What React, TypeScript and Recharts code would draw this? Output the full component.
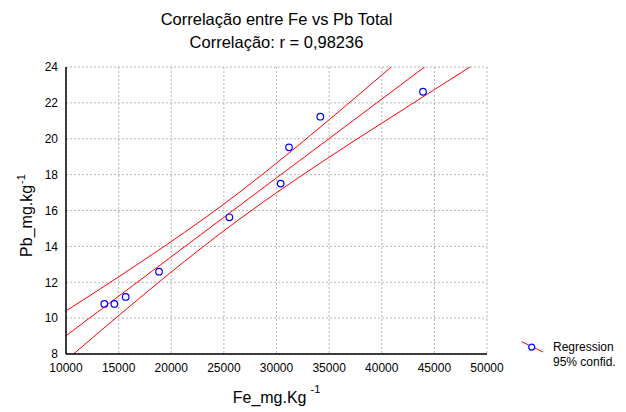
import React from 'react';
import { ComposedChart, Line, Scatter, XAxis, YAxis, CartesianGrid, Legend } from 'recharts';

// Observed samples
const feValues = [13640, 14590, 15670, 18840, 25520, 30400, 31190, 34160, 43920];
const pbValues = [10.79, 10.79, 11.18, 12.59, 15.62, 17.5, 19.52, 21.23, 22.62];

// Regression line and 95% confidence band
const bandFe = [10000, 15000, 20000, 25000, 30000, 35000, 40000, 45000, 50000];
const fitPb = [9.02, 11.22, 13.42, 15.62, 17.82, 20.01, 22.21, 24.41, 26.61];
const upperPb = [10.4, 12.3, 14.27, 16.36, 18.64, 21.06, 23.55, 26.07, 28.62];
const lowerPb = [7.64, 10.14, 12.57, 14.87, 16.99, 18.97, 20.87, 22.74, 24.6];

// Axis ticks
const xTickLabels = [10000, 15000, 20000, 25000, 30000, 35000, 40000, 45000, 50000];
const yTickLabels = [8, 10, 12, 14, 16, 18, 20, 22, 24];
const xMinorTicks = Array.from({ length: 41 }, (_, i) => 10000 + i * 1000);
const yMinorTicks = Array.from({ length: 17 }, (_, i) => 8 + i);

const titleLines = ['Correlação entre Fe vs Pb Total', 'Correlação: r = 0,98236'];
const legendLabels = ['Regression', '95% confid.'];

const points = feValues.map((fe, i) => ({ fe, pb: pbValues[i] }));
const fitLine = bandFe.map((fe, i) => ({ fe, pb: fitPb[i] }));
const upperLine = bandFe.map((fe, i) => ({ fe, pb: upperPb[i] }));
const lowerLine = bandFe.map((fe, i) => ({ fe, pb: lowerPb[i] }));

const W = 626;
const H = 412;
const FONT = "'Liberation Sans', Arial, Helvetica, sans-serif";
const RED = '#ff0000';
const BLUE = '#0000ff';

const XTitle = (props: any) => {
  const { x, y, width } = props.viewBox;
  return (
    <text x={x + width / 2} y={y + 49} textAnchor="middle" fontFamily={FONT} fontSize={16} fill="#000">
      Fe_mg.Kg
      <tspan fontSize={11} dx={4} dy={-10}>-1</tspan>
    </text>
  );
};

const YTitle = (props: any) => {
  const { x, y, height } = props.viewBox;
  const cx = x + 32;
  const cy = y + height / 2 + 5;
  return (
    <text x={cx} y={cy} transform={`rotate(-90, ${cx}, ${cy})`} textAnchor="middle" fontFamily={FONT} fontSize={16} fill="#000">
      Pb_mg.kg
      <tspan fontSize={11} dx={1} dy={-7}>-1</tspan>
    </text>
  );
};

const Circle = (props: any) => {
  const { cx, cy } = props;
  return <circle cx={cx} cy={cy} r={3.3} fill="none" stroke={BLUE} strokeWidth={1.2} />;
};

const LegendContent = () => (
  <div style={{ display: 'flex', alignItems: 'flex-start', fontFamily: FONT, fontSize: 12, color: '#000' }}>
    <svg width={26} height={18}>
      <line x1={1.7} y1={3.7} x2={23} y2={14} stroke={RED} strokeWidth={1} />
      <circle cx={11.7} cy={9.1} r={3} fill="#fff" stroke={BLUE} strokeWidth={1.2} />
    </svg>
    <div style={{ marginLeft: 7, marginTop: 2, lineHeight: '14.5px', whiteSpace: 'nowrap' }}>
      <div>{legendLabels[0]}</div>
      <div>{legendLabels[1]}</div>
    </div>
  </div>
);

export default function App() {
  return (
    <div style={{ position: 'absolute', left: 0, top: 0, width: W, height: H, background: '#fff' }}>
      <div style={{ position: 'absolute', left: 66, width: 421, top: 8, textAlign: 'center', fontFamily: FONT, fontSize: 16.5, lineHeight: '23px', color: '#000' }}>
        <div>{titleLines[0]}</div>
        <div>{titleLines[1]}</div>
      </div>
      <ComposedChart width={W} height={H} margin={{ top: 67, right: 139, bottom: 0, left: 0 }}>
        <CartesianGrid xAxisId="main" yAxisId="main" stroke="#b4b4b4" strokeDasharray="2 2" />
        <XAxis
          xAxisId="main"
          dataKey="fe"
          type="number"
          domain={[10000, 50000]}
          ticks={xTickLabels}
          allowDataOverflow
          height={58}
          tickSize={0}
          tickMargin={9}
          tickLine={false}
          axisLine={{ stroke: '#000', strokeWidth: 1.5 }}
          tick={{ fontSize: 12, fill: '#000', fontFamily: FONT }}
          label={{ content: XTitle }}
        />
        <XAxis
          xAxisId="minorBottom"
          dataKey="fe"
          type="number"
          orientation="bottom"
          mirror
          domain={[10000, 50000]}
          ticks={xMinorTicks}
          allowDataOverflow
          height={0}
          tickSize={3}
          tick={false}
          axisLine={false}
          tickLine={{ stroke: '#000' }}
        />
        <XAxis
          xAxisId="minorTop"
          dataKey="fe"
          type="number"
          orientation="top"
          mirror
          domain={[10000, 50000]}
          ticks={xMinorTicks}
          allowDataOverflow
          height={0}
          tickSize={3}
          tick={false}
          axisLine={{ stroke: '#000', strokeWidth: 1.5 }}
          tickLine={{ stroke: '#000' }}
        />
        <YAxis
          yAxisId="main"
          dataKey="pb"
          type="number"
          domain={[8, 24]}
          ticks={yTickLabels}
          allowDataOverflow
          width={66}
          tickSize={0}
          tickMargin={8}
          tickLine={false}
          axisLine={{ stroke: '#000', strokeWidth: 1.5 }}
          tick={{ fontSize: 12, fill: '#000', fontFamily: FONT }}
          label={{ content: YTitle }}
        />
        <YAxis
          yAxisId="minorLeft"
          dataKey="pb"
          type="number"
          orientation="left"
          mirror
          domain={[8, 24]}
          ticks={yMinorTicks}
          allowDataOverflow
          width={0}
          tickSize={3}
          tick={false}
          axisLine={false}
          tickLine={{ stroke: '#000' }}
        />
        <YAxis
          yAxisId="minorRight"
          dataKey="pb"
          type="number"
          orientation="right"
          mirror
          domain={[8, 24]}
          ticks={yMinorTicks}
          allowDataOverflow
          width={0}
          tickSize={3}
          tick={false}
          axisLine={{ stroke: '#000', strokeWidth: 1.5 }}
          tickLine={{ stroke: '#000' }}
        />
        <Line xAxisId="main" yAxisId="main" data={upperLine} dataKey="pb" type="monotone" stroke={RED} strokeWidth={1} dot={false} isAnimationActive={false} legendType="none" />
        <Line xAxisId="main" yAxisId="main" data={fitLine} dataKey="pb" type="linear" stroke={RED} strokeWidth={1} dot={false} isAnimationActive={false} legendType="none" />
        <Line xAxisId="main" yAxisId="main" data={lowerLine} dataKey="pb" type="monotone" stroke={RED} strokeWidth={1} dot={false} isAnimationActive={false} legendType="none" />
        <Scatter xAxisId="main" yAxisId="main" data={points} dataKey="pb" shape={<Circle />} isAnimationActive={false} />
        <Legend
          layout="horizontal"
          verticalAlign="middle"
          align="center"
          content={<LegendContent />}
          wrapperStyle={{ position: 'absolute', left: 520, top: 338, width: 106, height: 34 }}
        />
      </ComposedChart>
    </div>
  );
}
